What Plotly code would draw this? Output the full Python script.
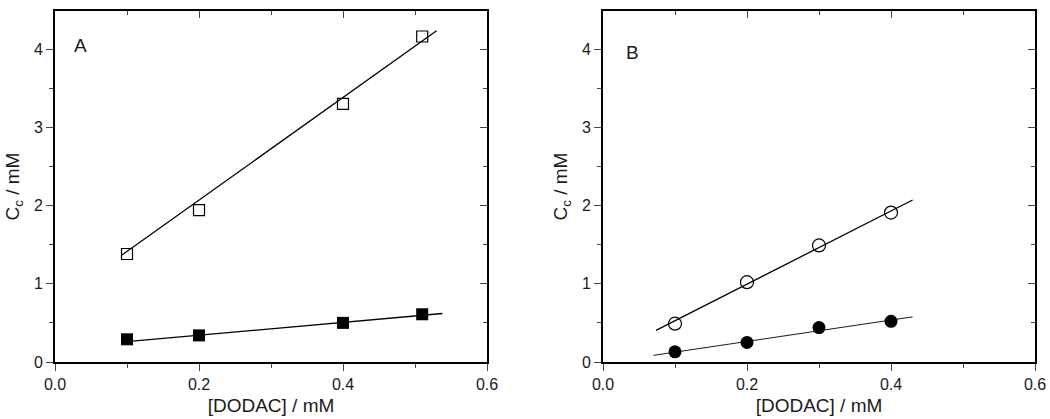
import plotly.graph_objects as go

# Panel A: squares
a_x = [0.1, 0.2, 0.4, 0.51]
a_open_y = [1.38, 1.94, 3.30, 4.16]
a_filled_y = [0.29, 0.34, 0.50, 0.61]
a_open_fit_x = [0.093, 0.530]
a_open_fit_y = [1.367, 4.234]
a_filled_fit_x = [0.0995, 0.538]
a_filled_fit_y = [0.26, 0.62]

# Panel B: circles
b_x = [0.1, 0.2, 0.3, 0.4]
b_open_y = [0.49, 1.02, 1.49, 1.91]
b_filled_y = [0.13, 0.25, 0.44, 0.52]
b_open_fit_x = [0.0736, 0.430]
b_open_fit_y = [0.405, 2.07]
b_filled_fit_x = [0.070, 0.430]
b_filled_fit_y = [0.085, 0.577]

FONT = "Liberation Sans, Arial, sans-serif"
BLACK = "#000000"
TXT = "#1a1a1a"

fig = go.Figure()


def add_panel(xa, ya, fits, markers):
    for fx, fy, w in fits:
        fig.add_trace(go.Scatter(x=fx, y=fy, mode="lines", xaxis=xa, yaxis=ya,
                                 line=dict(color=BLACK, width=w), showlegend=False))
    for mx, my, sym, size, lw in markers:
        fig.add_trace(go.Scatter(x=mx, y=my, mode="markers", xaxis=xa, yaxis=ya,
                                 marker=dict(symbol=sym, size=size, color=BLACK,
                                             line=dict(color="#222222", width=lw)),
                                 showlegend=False))


add_panel("x", "y",
          [(a_open_fit_x, a_open_fit_y, 1.3), (a_filled_fit_x, a_filled_fit_y, 1.3)],
          [(a_x, a_open_y, "square-open", 11, 1.2), (a_x, a_filled_y, "square", 12, 0)])
add_panel("x2", "y2",
          [(b_open_fit_x, b_open_fit_y, 1.3), (b_filled_fit_x, b_filled_fit_y, 0.9)],
          [(b_x, b_open_y, "circle-open", 13, 1.2), (b_x, b_filled_y, "circle", 13, 0)])

# dummy traces so the mirrored (inside-tick) axes get drawn
for xa, ya in [("x3", "y3"), ("x4", "y4")]:
    fig.add_trace(go.Scatter(x=[None], y=[None], xaxis=xa, yaxis=ya, showlegend=False))

XR = [0, 0.6]
YR = [0, 4.486]
dom_a = [55 / 1050, 487 / 1050]
dom_b = [603 / 1050, 1035 / 1050]
dom_y = [1 - 362 / 419, 1 - 11 / 419]

base_x = dict(range=XR, dtick=0.2, tick0=0, tickformat=".1f", ticks="outside", ticklen=7,
              tickwidth=1.3, showline=True, linecolor=BLACK, linewidth=1.6, showgrid=False,
              zeroline=False, automargin=False, tickfont=dict(size=16, color=TXT, family=FONT),
              minor=dict(dtick=0.1, ticks="outside", ticklen=4, tickwidth=1.3, showgrid=False),
              title=dict(text="[DODAC] / mM", font=dict(size=19, color=TXT, family=FONT),
                         standoff=7))
base_y = dict(range=YR, dtick=1, tick0=0, ticks="outside", ticklen=7, tickwidth=1.3,
              showline=True, linecolor=BLACK, linewidth=1.6, showgrid=False, zeroline=False,
              automargin=False, tickfont=dict(size=16, color=TXT, family=FONT),
              minor=dict(dtick=0.5, ticks="outside", ticklen=4, tickwidth=1.3, showgrid=False),
              title=dict(text="C<sub>c</sub> / mM", font=dict(size=19, color=TXT, family=FONT),
                         standoff=9))
mirror_x = dict(range=XR, dtick=0.2, tick0=0, ticks="inside", ticklen=7, tickwidth=1.3,
                showline=True, linecolor=BLACK, linewidth=1.6, showgrid=False, zeroline=False,
                showticklabels=False, automargin=False,
                minor=dict(dtick=0.1, ticks="inside", ticklen=4, tickwidth=1.3, showgrid=False))
mirror_y = dict(range=YR, dtick=1, tick0=0, ticks="inside", ticklen=7, tickwidth=1.3,
                showline=True, linecolor=BLACK, linewidth=1.6, showgrid=False, zeroline=False,
                showticklabels=False, automargin=False,
                minor=dict(dtick=0.5, ticks="inside", ticklen=4, tickwidth=1.3, showgrid=False))

fig.update_layout(
    width=1050, height=419,
    margin=dict(l=0, r=0, t=0, b=0, autoexpand=False),
    paper_bgcolor="white", plot_bgcolor="white",
    font=dict(family=FONT, color=TXT),
    xaxis=dict(base_x, domain=dom_a, anchor="y"),
    yaxis=dict(base_y, domain=dom_y, anchor="x"),
    xaxis2=dict(base_x, domain=dom_b, anchor="y2"),
    yaxis2=dict(base_y, domain=dom_y, anchor="x2"),
    xaxis3=dict(mirror_x, overlaying="x", side="top", anchor="y"),
    yaxis3=dict(mirror_y, overlaying="y", side="right", anchor="x"),
    xaxis4=dict(mirror_x, overlaying="x2", side="top", anchor="y2"),
    yaxis4=dict(mirror_y, overlaying="y2", side="right", anchor="x2"),
    annotations=[
        dict(text="A", x=0.036, y=4.05, xref="x", yref="y", showarrow=False,
             font=dict(size=19, color=TXT, family=FONT)),
        dict(text="B", x=0.041, y=3.95, xref="x2", yref="y2", showarrow=False,
             font=dict(size=19, color=TXT, family=FONT)),
    ],
)

# drop the browser's default 8px body margin so the figure sits at the page corner
fig.write_html("out.html", config={"displayModeBar": False},
               post_script="document.body.style.margin='0';")
